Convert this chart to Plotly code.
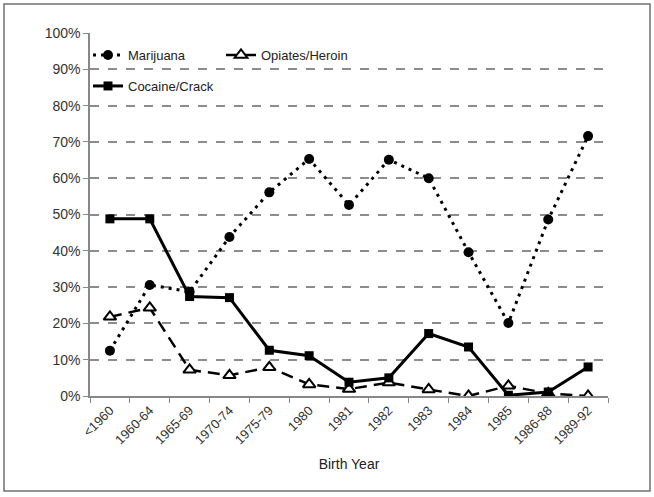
import plotly.graph_objects as go

categories = ["<1960", "1960-64", "1965-69", "1970-74", "1975-79", "1980", "1981",
              "1982", "1983", "1984", "1985", "1986-88", "1989-92"]
marijuana = [12.5, 30.6, 28.7, 43.8, 56.1, 65.3, 52.6, 65.1, 60.0, 39.6, 20.1, 48.6, 71.6]
opiates = [21.8, 24.3, 7.2, 5.7, 7.9, 3.2, 1.9, 3.7, 1.8, 0.0, 2.8, 0.7, 0.0]
cocaine = [48.8, 48.8, 27.4, 27.1, 12.6, 11.1, 3.8, 5.0, 17.2, 13.5, 0.2, 1.1, 8.0]
y_ticks = [0, 10, 20, 30, 40, 50, 60, 70, 80, 90, 100]
y_tick_labels = [f"{v}%" for v in y_ticks]

W, H = 654, 497
ML, MR, MT, MB = 90, 46, 33, 101
PW, PH = W - ML - MR, H - MT - MB

fig = go.Figure()
fig.add_trace(go.Scatter(
    x=categories, y=marijuana, name="Marijuana", mode="lines+markers",
    line=dict(color="black", width=3, dash="3px,5px"),
    marker=dict(symbol="circle", size=10, color="black"),
    legend="legend"))
fig.add_trace(go.Scatter(
    x=categories, y=opiates, name="Opiates/Heroin", mode="lines+markers",
    line=dict(color="black", width=2.5, dash="12px,7px"),
    marker=dict(symbol="triangle-up", size=11, color="white", line=dict(width=2, color="black")),
    legend="legend"))
fig.add_trace(go.Scatter(
    x=categories, y=cocaine, name="Cocaine/Crack", mode="lines+markers",
    line=dict(color="black", width=3),
    marker=dict(symbol="square", size=9, color="black"),
    legend="legend2"))

def px2paper_x(px):
    return (px - ML) / PW

def px2paper_y(py):
    return (H - MB - py) / PH

fig.add_shape(type="rect", xref="paper", yref="paper",
              x0=px2paper_x(4), x1=px2paper_x(650), y0=px2paper_y(491), y1=px2paper_y(4),
              line=dict(color="#707070", width=1.5), layer="below")

fig.update_layout(
    width=W, height=H,
    margin=dict(l=ML, r=MR, t=MT, b=MB),
    paper_bgcolor="white", plot_bgcolor="white",
    font=dict(family="Liberation Sans, Arial, sans-serif", size=13, color="#222"),
    legend=dict(orientation="h", x=px2paper_x(88), y=px2paper_y(40), xanchor="left", yanchor="top",
                bgcolor="rgba(0,0,0,0)", font=dict(size=13), entrywidth=88, itemwidth=30,
                traceorder="normal"),
    legend2=dict(orientation="h", x=px2paper_x(88), y=px2paper_y(71), xanchor="left", yanchor="top",
                 bgcolor="rgba(0,0,0,0)", font=dict(size=13), itemwidth=30),
    xaxis=dict(
        type="category", categoryorder="array", categoryarray=categories,
        range=[-0.5, len(categories) - 0.5],
        tickangle=-45, tickson="boundaries", ticks="outside", ticklen=5, tickcolor="#888",
        showline=True, linecolor="#888", linewidth=1.5, showgrid=False,
        tickfont=dict(size=13, color="#333"),
        title=dict(text="Birth Year", font=dict(size=14), standoff=13),
    ),
    yaxis=dict(
        range=[0, 100], tickvals=y_ticks, ticktext=y_tick_labels,
        ticks="outside", ticklen=5, tickcolor="#888",
        showline=True, linecolor="#888", linewidth=1.5,
        showgrid=True, gridcolor="#8c8c8c", gridwidth=1.5, griddash="dash",
        zeroline=False, tickfont=dict(size=14, color="#333"),
    ),
)

fig.write_html("out.html", config={"displayModeBar": False})

with open("out.html", "r", encoding="utf-8") as f:
    html = f.read()
html = html.replace("<head>", "<head><style>html,body{margin:0;padding:0;overflow:hidden;}</style>", 1)
with open("out.html", "w", encoding="utf-8") as f:
    f.write(html)
